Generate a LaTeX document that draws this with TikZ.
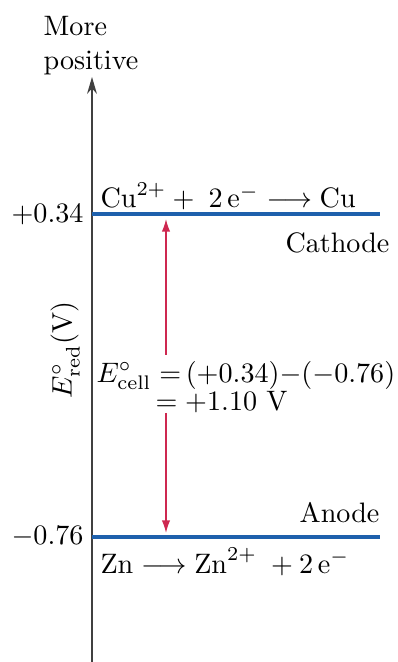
\documentclass[tikz,border=0pt]{standalone}
\usetikzlibrary{arrows.meta}
\definecolor{levelblue}{RGB}{30,96,172}
\definecolor{cellred}{RGB}{206,40,80}
\begin{document}
\begin{tikzpicture}[x=0.0125cm,y=-0.0125cm,
        level/.style={levelblue, line width=1.1pt},
        gap/.style={cellred, line width=0.5pt, -{Latex[length=4.5pt,width=3pt]}},
        lbl/.style={inner sep=0pt}]
        \useasboundingbox (0,0) rectangle (398,662);
        % Axis
        \coordinate (axbot) at (92,662);
        \coordinate (axtop) at (92,77);
        \draw[-{Stealth[length=6pt,width=3.5pt]}, line width=0.6pt, black!75] (axbot) -- (axtop);
        \node[lbl, align=left, anchor=north] (more) at (91,16) {More\\positive};
        \node[lbl, rotate=90] (ylab) at (65,350) {$E^{\circ}_{\mathrm{red}}(\mathrm{V})$};
        % Cathode level
        \coordinate (cuA) at (92,214);
        \coordinate (cuB) at (380,214);
        \draw[level] (cuA) -- (cuB);
        \node[lbl, anchor=east] (pcu) at (84,215) {$+0.34$};
        \node[lbl, anchor=base west] (cueq) at (100,208) {$\mathrm{Cu}^{2+} + \;2\,\mathrm{e}^{-} \longrightarrow \mathrm{Cu}$};
        \node[lbl, anchor=east] (cath) at (390,243) {Cathode};
        % Anode level
        \coordinate (znA) at (92,537);
        \coordinate (znB) at (380,537);
        \draw[level] (znA) -- (znB);
        \node[lbl, anchor=east] (pzn) at (84,537) {$-0.76$};
        \node[lbl, anchor=base east] (anod) at (380,522) {Anode};
        \node[lbl, anchor=base west] (zneq) at (100,573) {$\mathrm{Zn} \longrightarrow \mathrm{Zn}^{2+} \;+ 2\,\mathrm{e}^{-}$};
        % Cell potential
        \node[lbl, anchor=base west] (ecell) at (96,382) {$E^{\circ}_{\mathrm{cell}}\;{=}\,(+0.34){-}(-0.76)$};
        \node[lbl, anchor=base west] (eval) at (155,410) {${=}\;{+}1.10\ \mathrm{V}$};
        \coordinate (cutip) at (166,219);
        \coordinate (zntip) at (166,533);
        \draw[gap] ([yshift=2pt]ecell.north -| cutip) -- (cutip);
        \draw[gap] (eval.south -| zntip) -- (zntip);
    \end{tikzpicture}
\end{document}
